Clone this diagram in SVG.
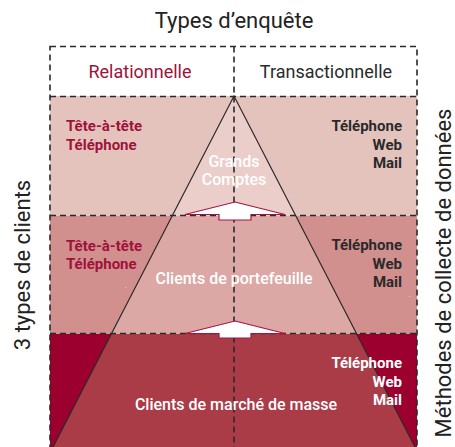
<svg xmlns="http://www.w3.org/2000/svg" width="455" height="447" viewBox="0 0 455 447">
<style>
text{font-family:"Roboto","Liberation Sans",sans-serif}
.title{font-size:22px;fill:#222}
.hdr{font-size:18px;text-anchor:middle}
.red{fill:#a0123a}
.dark{fill:#2a2a2a}
.wt{fill:#ffffff}
.lbl{font-size:15px;font-weight:bold}
.r{text-anchor:end}
.c{text-anchor:middle}
.mid{font-size:16px;font-weight:500}
.dash{stroke:#2a2a2a;stroke-width:1.6;stroke-dasharray:6 4;fill:none}
.pyr{stroke:#2a2a2a;stroke-width:1.2;fill:none}
.arrow{fill:#ffffff;stroke:#a8153f;stroke-width:1.2;stroke-linejoin:miter}
</style>
<rect width="455" height="447" fill="#ffffff"/>
<text class="title" x="234" y="28" text-anchor="middle">Types d’enquête</text>
<text class="title" transform="translate(30,265) rotate(-90)" text-anchor="middle" font-size="21">3 types de clients</text>
<text class="title" transform="translate(451,273) rotate(-90)" text-anchor="middle" font-size="20">Méthodes de collecte de données</text>

<g id="row1">
<rect x="50" y="96" width="367" height="120" fill="#e5c3bd"/>
<polygon points="234,96 295.9,216 172.1,216" fill="#ebcdca"/>
</g>
<g id="row2">
<rect x="50" y="216" width="367" height="118" fill="#d18f8d"/>
<polygon points="172.1,216 295.9,216 356.7,334 111.3,334" fill="#dba8a5"/>
</g>
<g id="row3">
<rect x="50" y="334" width="367" height="113" fill="#9b002e"/>
<polygon points="111.3,334 356.7,334 415,447 53,447" fill="#aa3c48"/>
</g>
<polyline class="pyr" points="53,447 234,96 415,447"/>

<g id="grid">
<rect class="dash" x="50" y="46.5" width="367" height="420"/>
<line class="dash" x1="234" y1="46.5" x2="234" y2="447"/>
<line class="dash" x1="50" y1="96.5" x2="417" y2="96.5"/>
<line class="dash" x1="50" y1="215.5" x2="417" y2="215.5"/>
<line class="dash" x1="50" y1="333.5" x2="417" y2="333.5"/>
</g>

<g id="connectors">
<polygon class="arrow" points="235,202 285,214.5 251,214.5 251,220 219,220 219,214.5 185,214.5"/>
<polygon class="arrow" points="235,321 285,333.5 251,333.5 251,338 219,338 219,333.5 185,333.5"/>
</g>

<g id="header-relationnelle"><text class="hdr red" x="140" y="78">Relationnelle</text></g>
<g id="header-transactionnelle"><text class="hdr dark" x="326" y="78">Transactionnelle</text></g>

<g id="grands-comptes">
<text class="wt c mid" x="234" y="167" font-size="15">Grands</text>
<text class="wt c mid" x="234" y="185" font-size="15">Comptes</text>
<text class="red lbl" x="66" y="131">Tête-à-tête</text>
<text class="red lbl" x="66" y="149.5">Téléphone</text>
<text class="dark lbl r" x="402" y="131">Téléphone</text>
<text class="dark lbl r" x="402" y="149.5">Web</text>
<text class="dark lbl r" x="402" y="168">Mail</text>
<text class="wt" x="125" y="169" font-size="5">.</text>
<text class="wt" x="409" y="178" font-size="5">.</text>
</g>
<g id="clients-portefeuille">
<text class="wt c mid" x="234" y="284">Clients de portefeuille</text>
<text class="red lbl" x="66" y="250.5">Tête-à-tête</text>
<text class="red lbl" x="66" y="269">Téléphone</text>
<text class="dark lbl r" x="402" y="250">Téléphone</text>
<text class="dark lbl r" x="402" y="268.5">Web</text>
<text class="dark lbl r" x="402" y="287">Mail</text>
<text class="wt" x="125" y="289" font-size="5">-</text>
<text class="wt" x="409" y="298" font-size="5">-</text>
</g>
<g id="clients-masse">
<text class="wt c mid" x="236" y="410">Clients de marché de masse</text>
<text class="wt lbl r" x="402" y="368">Téléphone</text>
<text class="wt lbl r" x="402" y="386.5">Web</text>
<text class="wt lbl r" x="402" y="405">Mail</text>
</g>
</svg>
